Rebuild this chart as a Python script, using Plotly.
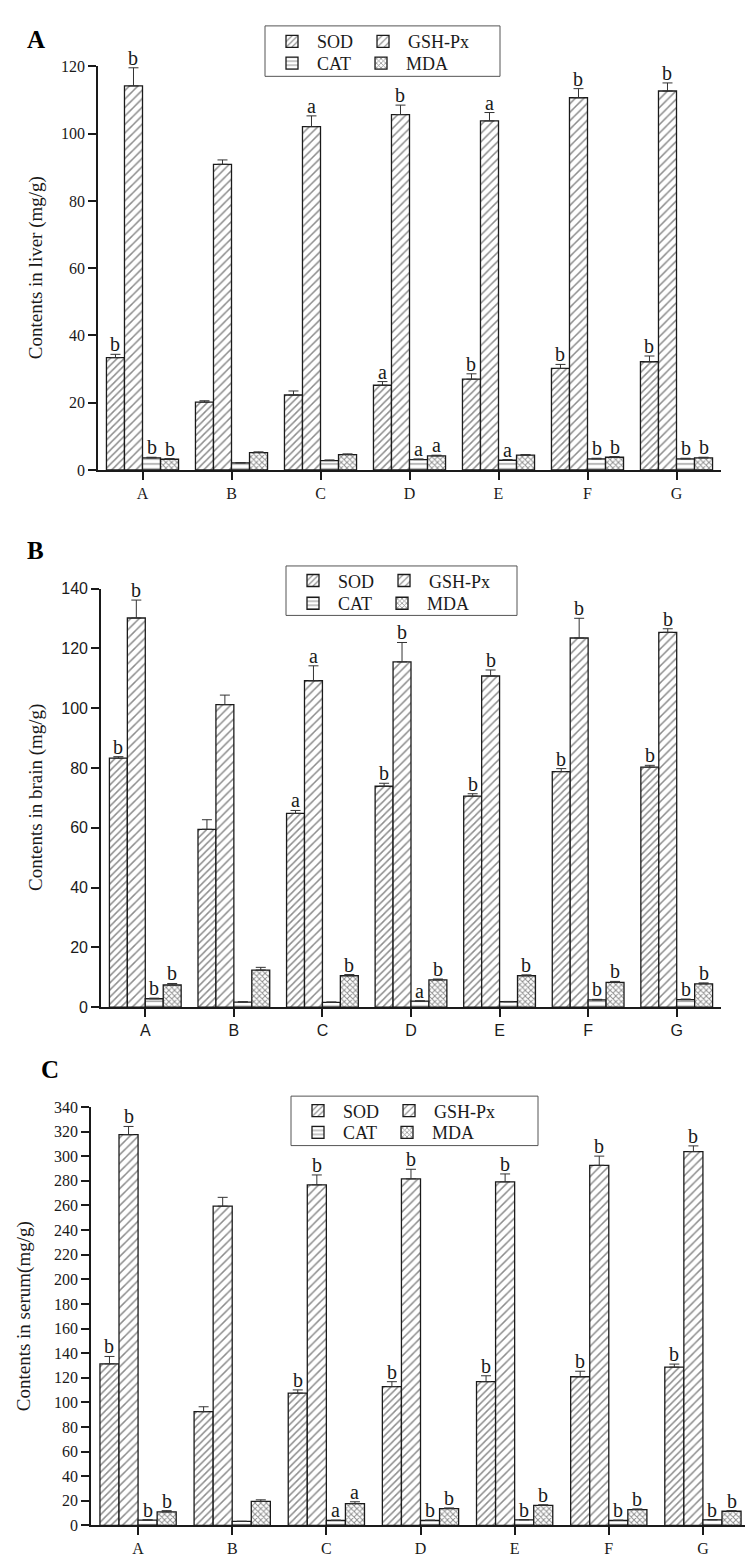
import plotly.graph_objects as go

groups = ["A", "B", "C", "D", "E", "F", "G"]
series = ["SOD", "GSH-Px", "CAT", "MDA"]

# ---------------- Panel A : liver ----------------
liver_sod = [33.4, 20.2, 22.3, 25.2, 27.0, 30.2, 32.2]
liver_sod_err = [1.0, 0.4, 1.2, 1.1, 1.6, 1.2, 1.7]
liver_gsh = [114.2, 90.9, 102.1, 105.7, 103.8, 110.7, 112.7]
liver_gsh_err = [5.4, 1.3, 3.2, 2.8, 2.5, 2.7, 2.4]
liver_cat = [3.6, 2.1, 2.8, 3.1, 2.9, 3.3, 3.3]
liver_cat_err = [0.2, 0.1, 0.2, 0.2, 0.2, 0.2, 0.2]
liver_mda = [3.2, 5.2, 4.6, 4.2, 4.4, 3.8, 3.6]
liver_mda_err = [0.2, 0.2, 0.2, 0.2, 0.2, 0.2, 0.2]
liver_sod_sig = ["b", "", "", "a", "b", "b", "b"]
liver_gsh_sig = ["b", "", "a", "b", "a", "b", "b"]
liver_cat_sig = ["b", "", "", "a", "a", "b", "b"]
liver_mda_sig = ["b", "", "", "a", "", "b", "b"]
liver_ticks = [0, 20, 40, 60, 80, 100, 120]

# ---------------- Panel B : brain ----------------
brain_sod = [83.3, 59.5, 64.8, 73.9, 70.6, 78.8, 80.3]
brain_sod_err = [0.5, 3.2, 1.0, 1.0, 0.8, 1.0, 0.6]
brain_gsh = [130.2, 101.2, 109.2, 115.5, 110.8, 123.5, 125.4]
brain_gsh_err = [6.0, 3.2, 5.0, 6.5, 2.0, 6.6, 1.2]
brain_cat = [2.8, 1.7, 1.6, 2.0, 1.8, 2.4, 2.5]
brain_cat_err = [0.2, 0.1, 0.1, 0.1, 0.1, 0.2, 0.2]
brain_mda = [7.4, 12.4, 10.5, 9.1, 10.5, 8.3, 7.8]
brain_mda_err = [0.5, 0.9, 0.4, 0.3, 0.3, 0.3, 0.3]
brain_sod_sig = ["b", "", "a", "b", "b", "b", "b"]
brain_gsh_sig = ["b", "", "a", "b", "b", "b", "b"]
brain_cat_sig = ["b", "", "", "a", "", "b", "b"]
brain_mda_sig = ["b", "", "b", "b", "b", "b", "b"]
brain_ticks = [0, 20, 40, 60, 80, 100, 120, 140]

# ---------------- Panel C : serum ----------------
serum_sod = [131.3, 92.4, 107.5, 112.8, 116.8, 120.8, 128.6]
serum_sod_err = [6.0, 4.0, 2.6, 4.0, 4.8, 4.5, 2.5]
serum_gsh = [317.5, 259.4, 276.8, 281.6, 279.2, 292.6, 303.8]
serum_gsh_err = [6.7, 7.2, 8.0, 7.8, 6.4, 7.5, 4.6]
serum_cat = [4.3, 3.2, 4.0, 4.0, 4.5, 4.0, 4.5]
serum_cat_err = [0.3, 0.2, 0.3, 0.3, 0.3, 0.3, 0.3]
serum_mda = [11.0, 19.5, 17.7, 13.7, 16.3, 12.9, 11.5]
serum_mda_err = [1.0, 1.3, 1.5, 0.5, 0.5, 0.5, 0.5]
serum_sod_sig = ["b", "", "b", "b", "b", "b", "b"]
serum_gsh_sig = ["b", "", "b", "b", "b", "b", "b"]
serum_cat_sig = ["b", "", "a", "b", "b", "b", "b"]
serum_mda_sig = ["b", "", "a", "b", "b", "b", "b"]
serum_ticks = list(range(0, 341, 20))

SERIF = "Liberation Serif"
SANS = "Liberation Sans"
INK = "#1a1a1a"
W, H = 753, 1564
BARGAP = 0.19

patterns = {
    "SOD": dict(shape="/", size=5, solidity=0.3),
    "GSH-Px": dict(shape="/", size=6, solidity=0.25),
    "CAT": dict(shape="-", size=5, solidity=0.25),
    "MDA": dict(shape="x", size=4, solidity=0.42),
}

def px_x(p):
    return p / W

def px_y(p):
    return 1 - p / H

panels = [
    dict(key="A", xa="x", ya="y", vals=[liver_sod, liver_gsh, liver_cat, liver_mda],
         errs=[liver_sod_err, liver_gsh_err, liver_cat_err, liver_mda_err],
         sigs=[liver_sod_sig, liver_gsh_sig, liver_cat_sig, liver_mda_sig],
         ticks=liver_ticks, yrange=[0, 120], xdom=[90, 713], ydom=[51, 459],
         tickfont=SERIF, ytitle="Contents in liver (mg/g)", title_x=28,
         legends=("legend", "legend2"), box=[257, 10, 492, 61], rows=[26, 48],
         label_pos=[28, 24]),
    dict(key="B", xa="x2", ya="y2", vals=[brain_sod, brain_gsh, brain_cat, brain_mda],
         errs=[brain_sod_err, brain_gsh_err, brain_cat_err, brain_mda_err],
         sigs=[brain_sod_sig, brain_gsh_sig, brain_cat_sig, brain_mda_sig],
         ticks=brain_ticks, yrange=[0, 140], xdom=[93, 713], ydom=[579, 1002],
         tickfont=SANS, ytitle="Contents in brain (mg/g)", title_x=28,
         legends=("legend3", "legend4"), box=[278, 556, 509, 606], rows=[571, 594],
         label_pos=[27, 540]),
    dict(key="C", xa="x3", ya="y3", vals=[serum_sod, serum_gsh, serum_cat, serum_mda],
         errs=[serum_sod_err, serum_gsh_err, serum_cat_err, serum_mda_err],
         sigs=[serum_sod_sig, serum_gsh_sig, serum_cat_sig, serum_mda_sig],
         ticks=serum_ticks, yrange=[0, 340], xdom=[83, 742], ydom=[1103, 1526],
         tickfont=SERIF, ytitle="Contents in serum(mg/g)", title_x=16,
         legends=("legend5", "legend6"), box=[283, 1092, 530, 1142], rows=[1107, 1129],
         label_pos=[42, 1065]),
]

fig = go.Figure()
annotations = []
shapes = []
layout = {}
xs = list(range(len(groups)))
nser = len(series)
bw = (1 - BARGAP) / nser

for pi, p in enumerate(panels):
    for si, name in enumerate(series):
        leg = p["legends"][0] if si < 2 else p["legends"][1]
        fig.add_trace(go.Bar(
            x=xs, y=p["vals"][si], name=name,
            xaxis=p["xa"], yaxis=p["ya"], legend=leg,
            marker=dict(color="white",
                        line=dict(color=INK, width=1.3),
                        pattern=dict(fgcolor=INK, bgcolor="white",
                                     fillmode="overlay", **patterns[name])),
            error_y=dict(type="data", symmetric=False, array=p["errs"][si],
                         arrayminus=[0] * len(groups), color="#333",
                         thickness=1, width=5),
            showlegend=True,
        ))
        off = -(1 - BARGAP) / 2 + bw * (si + 0.5)
        for gi in xs:
            t = p["sigs"][si][gi]
            if t:
                annotations.append(dict(
                    x=gi + off, y=p["vals"][si][gi] + p["errs"][si][gi],
                    xref=p["xa"], yref=p["ya"], text=t, showarrow=False,
                    xanchor="center", yanchor="bottom", yshift=-3,
                    font=dict(family=SERIF, size=20, color=INK)))
    xname = "xaxis" if p["xa"] == "x" else "xaxis" + p["xa"][1:]
    yname = "yaxis" if p["ya"] == "y" else "yaxis" + p["ya"][1:]
    layout[xname] = dict(
        domain=[px_x(p["xdom"][0]), px_x(p["xdom"][1])], anchor=p["ya"],
        range=[-0.5, len(groups) - 0.5], tickvals=xs, ticktext=groups,
        showline=True, linecolor=INK, linewidth=1.6, ticks="outside",
        ticklen=8, tickwidth=1.6, tickcolor=INK, showgrid=False, zeroline=False,
        tickfont=dict(family=p["tickfont"], size=16, color=INK), fixedrange=True)
    layout[yname] = dict(
        domain=[px_y(p["ydom"][1]), px_y(p["ydom"][0])], anchor=p["xa"],
        range=p["yrange"], tickvals=p["ticks"], showline=True, linecolor=INK,
        linewidth=1.6, ticks="outside", ticklen=8, tickwidth=1.6, tickcolor=INK,
        showgrid=False, zeroline=False,
        tickfont=dict(family=p["tickfont"], size=16, color=INK), fixedrange=True)
    annotations.append(dict(
        x=px_x(p["title_x"]), y=px_y((p["ydom"][0] + p["ydom"][1]) / 2),
        xref="paper", yref="paper", text=p["ytitle"], textangle=-90,
        xanchor="center", yanchor="middle",
        showarrow=False, font=dict(family=SERIF, size=19, color=INK)))
    annotations.append(dict(
        x=px_x(p["label_pos"][0]), y=px_y(p["label_pos"][1]),
        xref="paper", yref="paper", text="<b>%s</b>" % p["key"],
        xanchor="center", yanchor="middle",
        showarrow=False, font=dict(family=SERIF, size=25, color="black")))
    bx0, by0, bx1, by1 = p["box"]
    for li, lname in enumerate(p["legends"]):
        layout[lname] = dict(
            x=px_x(bx0 + 2), y=px_y(p["rows"][li]), xref="paper", yref="paper",
            xanchor="left", yanchor="middle", orientation="h",
            bgcolor="rgba(0,0,0,0)", borderwidth=0,
            font=dict(family=SERIF, size=18, color=INK),
            itemwidth=40, tracegroupgap=0,
            itemclick=False, itemdoubleclick=False)
    shapes.append(dict(type="rect", xref="paper", yref="paper",
                       x0=px_x(bx0), x1=px_x(bx1), y0=px_y(by1), y1=px_y(by0),
                       line=dict(color="#555", width=1), fillcolor="rgba(0,0,0,0)"))

fig.update_layout(
    width=W, height=H, margin=dict(l=0, r=0, t=0, b=0),
    font=dict(family=SERIF, color=INK),
    paper_bgcolor="white", plot_bgcolor="white",
    barmode="group", bargap=BARGAP, bargroupgap=0,
    annotations=annotations, shapes=shapes, **layout)

fig.write_html("out.html")
